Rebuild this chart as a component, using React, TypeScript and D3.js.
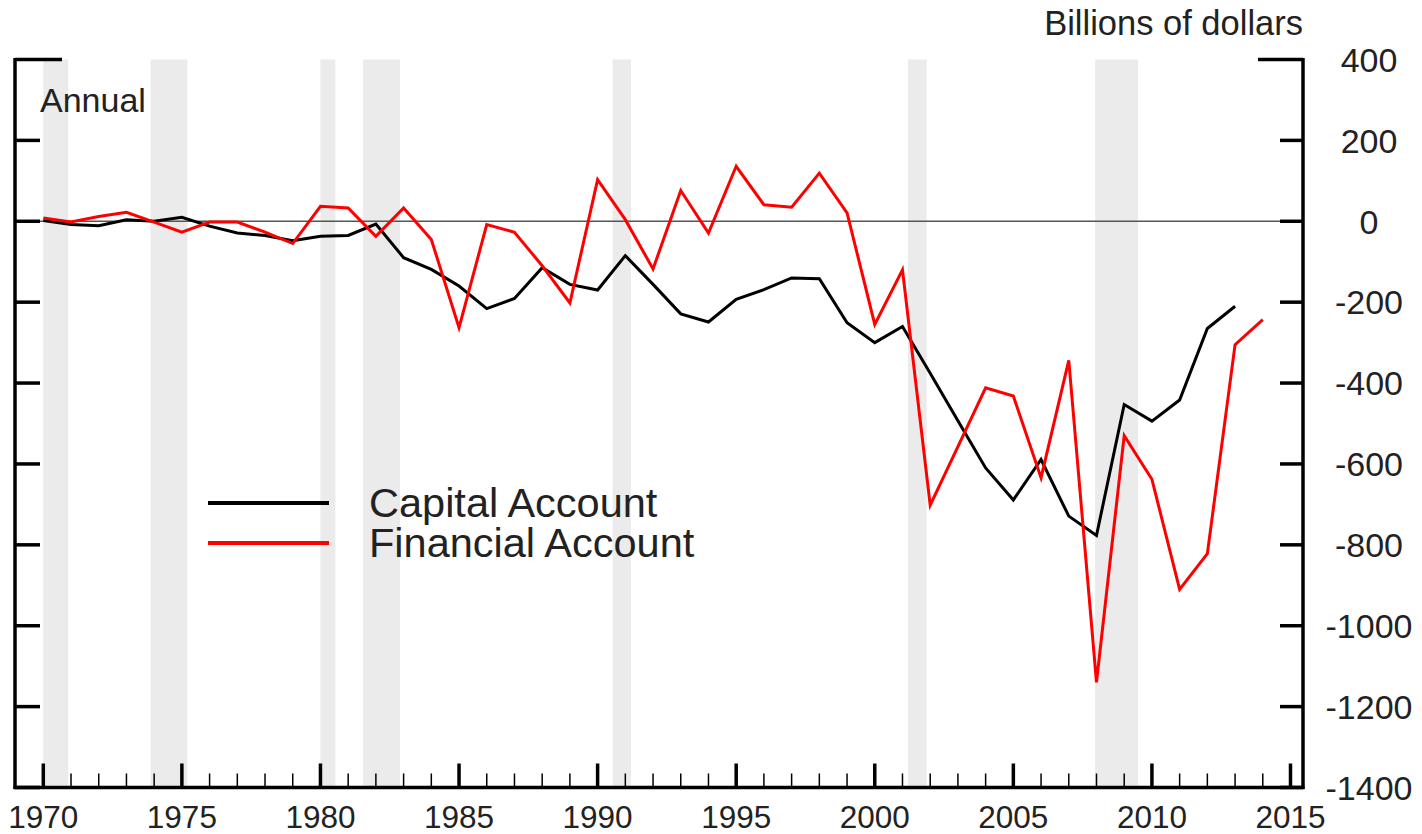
import * as d3 from "d3";

// years with data points
const years = d3.range(1970, 2015);

// Capital account, billions of dollars (1970-2013)
const capital = [
  2, -8, -11, 4, 0, 10, -12, -29, -35, -48,
  -37, -35, -7, -90, -119, -160, -216, -191, -115, -156,
  -170, -85, -156, -229, -249, -193, -169, -140, -142, -251,
  -300, -260, -376, -493, -610, -689, -589, -729, -777, -453,
  -494, -442, -265, -210,
];

// Financial account, billions of dollars (1970-2014)
const financial = [
  8, -2, 12, 22, -2, -27, -2, -2, -27, -55,
  37, 33, -37, 33, -45, -263, -8, -27, -110, -202,
  103, 4, -118, 76, -29, 136, 41, 35, 119, 21,
  -255, -120, -702, -557, -412, -432, -634, -344, -1140, -530,
  -638, -910, -822, -305, -243,
];

// recession shading, decimal years
const recessions: [number, number][] = [
  [1970.0, 1970.9],
  [1973.87, 1975.2],
  [1980.0, 1980.54],
  [1981.54, 1982.87],
  [1990.54, 1991.2],
  [2001.2, 2001.87],
  [2007.95, 2009.5],
];

const yTicks = [400, 200, 0, -200, -400, -600, -800, -1000, -1200, -1400];
const xMajor = d3.range(1970, 2016, 5);
const xMinor = d3.range(1970, 2016, 1);

const series = [
  { name: "Capital Account", values: capital, color: "#000000" },
  { name: "Financial Account", values: financial, color: "#ff0000" },
];

const W = 1422;
const H = 834;
const frameL = 15;
const frameR = 1303;
const frameT = 59.5;
const frameB = 787.5;
const font = "'Liberation Sans', Arial, Helvetica, sans-serif";
const textColor = "#222";

export default function App() {
  const x = d3.scaleLinear().domain([1970, 2015]).range([43.3, 1290.5]);
  const y = d3.scaleLinear().domain([-1400, 400]).range([frameB, frameT]);

  const line = d3
    .line<number>()
    .x((_, i) => x(years[i]))
    .y((d) => y(d));

  return (
    <svg
      width={W}
      height={H}
      style={{ position: "absolute", left: 0, top: 0, background: "#fff" }}
      fontFamily={font}
    >
      {/* recession bars */}
      {recessions.map(([a, b], i) => (
        <rect
          key={i}
          x={x(a)}
          y={frameT}
          width={x(b) - x(a)}
          height={frameB - frameT}
          fill="#ebebeb"
        />
      ))}

      {/* zero line */}
      <line x1={frameL} x2={frameR} y1={y(0)} y2={y(0)} stroke="#555" strokeWidth={1.5} />

      {/* series */}
      {series.map((s) => (
        <path
          key={s.name}
          d={line(s.values) || ""}
          fill="none"
          stroke={s.color}
          strokeWidth={3}
          strokeLinejoin="miter"
        />
      ))}

      {/* frame */}
      <g stroke="#000" strokeWidth={3.5} fill="none">
        <line x1={frameL} x2={frameL} y1={frameT - 1.5} y2={frameB + 1.5} />
        <line x1={frameR} x2={frameR} y1={frameT - 1.5} y2={frameB + 1.5} />
        <line x1={frameL - 1.5} x2={frameR + 1.5} y1={frameB} y2={frameB} />
        {yTicks.map((t) => {
          const long = t === 400;
          return (
            <g key={t}>
              <line x1={frameL} x2={frameL + (long ? 47 : 25)} y1={y(t)} y2={y(t)} />
              <line x1={frameR - (long ? 45 : 23)} x2={frameR} y1={y(t)} y2={y(t)} />
            </g>
          );
        })}
        {xMinor.map((t) => (
          <line
            key={"m" + t}
            x1={x(t)}
            x2={x(t)}
            y1={frameB}
            y2={frameB - (t % 5 === 0 ? 24 : 14)}
            strokeWidth={t % 5 === 0 ? 3.5 : 1.5}
          />
        ))}
      </g>

      {/* y labels */}
      <g fill={textColor} fontSize={34} textAnchor="middle">
        {yTicks.map((t) => (
          <text key={t} x={1369} y={y(t)} dy="0.36em">
            {t}
          </text>
        ))}
      </g>

      {/* x labels */}
      <g fill={textColor} fontSize={31.5} textAnchor="middle">
        {xMajor.map((t) => (
          <text key={t} x={x(t)} y={828}>
            {t}
          </text>
        ))}
      </g>

      <text x={frameR} y={35} fontSize={34.5} textAnchor="end" fill={textColor}>
        Billions of dollars
      </text>
      <text x={40} y={112} fontSize={34} fill={textColor}>
        Annual
      </text>

      {/* legend */}
      {series.map((s, i) => (
        <g key={s.name} transform={`translate(0,${i * 40})`}>
          <line x1={208} x2={329} y1={503} y2={503} stroke={s.color} strokeWidth={4} />
          <text x={369} y={517} fontSize={41.5} fill={textColor}>
            {s.name}
          </text>
        </g>
      ))}
    </svg>
  );
}
